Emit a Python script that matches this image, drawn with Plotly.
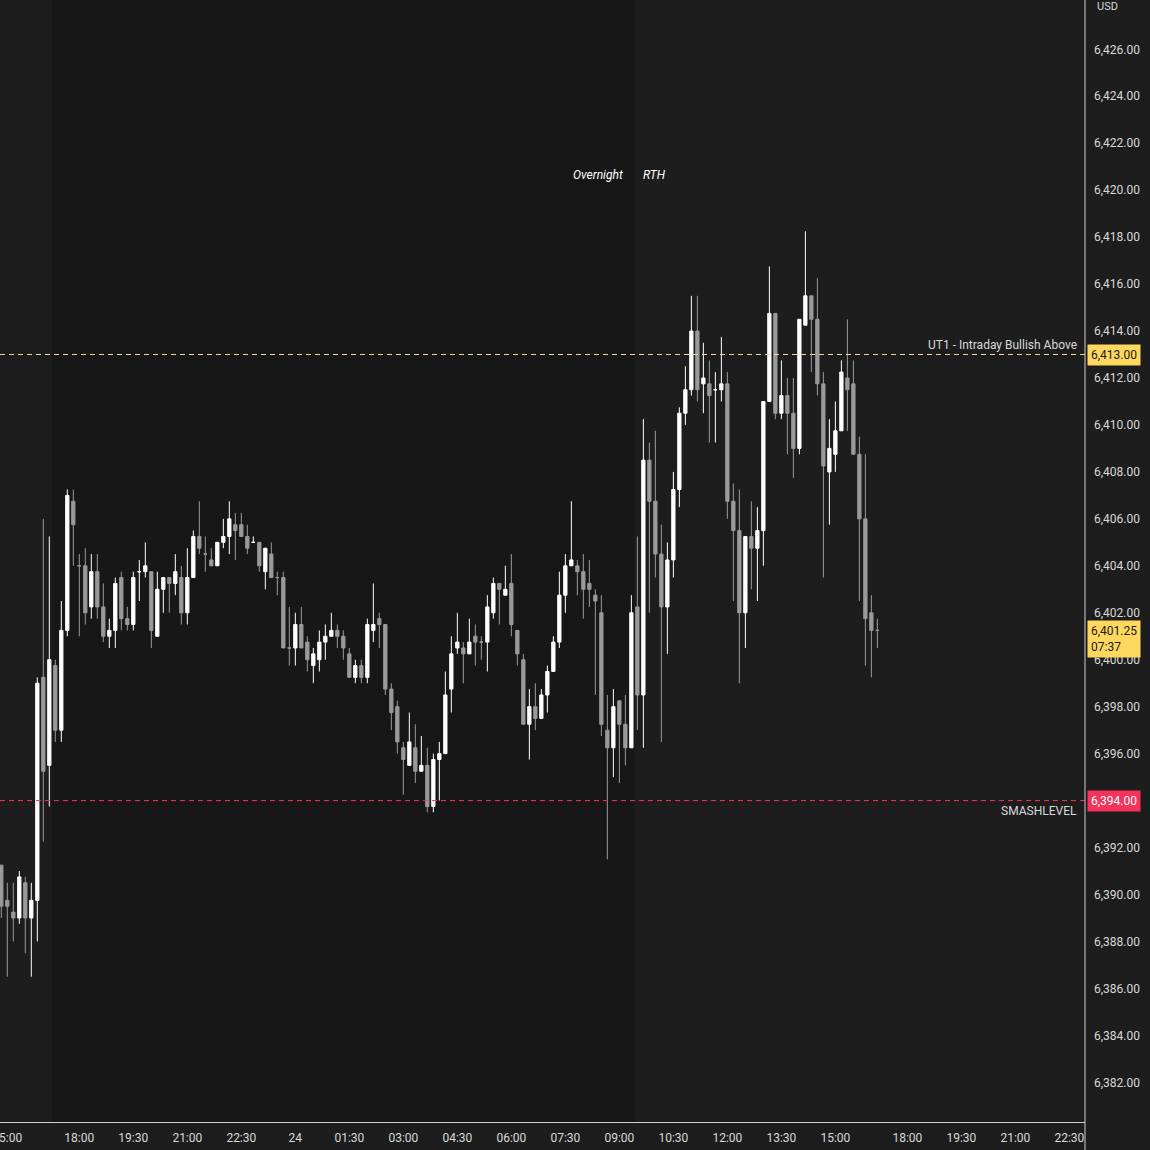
import plotly.graph_objects as go
import pandas as pd

# ---- data (10-minute bars) ----
opens = [
6391.25, 6389.75, 6389.25, 6389.0, 6390.5, 6389.0, 6389.75, 6399.25, 6395.5, 6399.75,
6397.0, 6401.25, 6406.75, 6404.0, 6404.0, 6402.25, 6403.75, 6402.25, 6401.0, 6401.25,
6403.5, 6401.75, 6401.5, 6403.75, 6403.75, 6403.75, 6401.0, 6403.0, 6403.5, 6403.25,
6403.5, 6402.0, 6403.5, 6405.25, 6404.5, 6404.25, 6404.0, 6405.0, 6405.25, 6405.75,
6405.75, 6405.25, 6405.0, 6405.0, 6403.75, 6404.5, 6403.5, 6403.5, 6400.5, 6400.5,
6401.5, 6400.75, 6399.75, 6400.0, 6400.75, 6401.0, 6401.25, 6401.0, 6400.25, 6399.25,
6399.75, 6399.25, 6401.25, 6401.75, 6401.5, 6398.75, 6398.0, 6396.25, 6395.5, 6396.25,
6395.25, 6395.5, 6393.75, 6395.75, 6396.0, 6398.75, 6400.5, 6400.5, 6400.25, 6401.0,
6400.75, 6400.75, 6402.0, 6403.25, 6402.75, 6403.25, 6401.25, 6400.0, 6397.25, 6398.0,
6397.5, 6398.5, 6399.5, 6400.75, 6402.75, 6404.0, 6404.0, 6403.75, 6403.25, 6402.75,
6402.0, 6397.0, 6396.25, 6398.25, 6397.25, 6396.25, 6402.25, 6398.5, 6408.5, 6406.75,
6404.5, 6402.25, 6404.25, 6407.25, 6410.5, 6411.5, 6414.0, 6411.75, 6411.75, 6411.5,
6411.5, 6411.75, 6406.75, 6405.5, 6402.0, 6405.25, 6404.75, 6405.5, 6411.0, 6414.75,
6410.5, 6411.25, 6410.5, 6409.0, 6414.25, 6415.5, 6414.5, 6411.75, 6408.0, 6408.75,
6409.75, 6412.0, 6411.75, 6408.75, 6406.0, 6402.0, 6401.25]

highs = [
6391.25, 6390.5, 6390.5, 6391.0, 6390.75, 6390.5, 6399.25, 6406.0, 6405.25, 6400.0,
6402.5, 6407.25, 6407.25, 6404.5, 6404.75, 6404.5, 6404.5, 6403.25, 6401.75, 6403.5,
6403.75, 6402.25, 6403.75, 6404.25, 6405.0, 6403.75, 6403.75, 6403.5, 6403.5, 6404.5,
6404.0, 6404.75, 6405.5, 6406.75, 6405.25, 6404.75, 6405.0, 6406.0, 6406.75, 6406.25,
6406.25, 6405.75, 6405.25, 6405.0, 6404.75, 6405.0, 6403.75, 6403.75, 6402.25, 6402.0,
6402.25, 6401.0, 6400.5, 6401.25, 6401.5, 6402.0, 6401.5, 6401.25, 6400.5, 6400.0,
6400.0, 6401.75, 6403.25, 6402.0, 6401.5, 6399.0, 6398.25, 6396.5, 6397.75, 6397.25,
6396.75, 6396.25, 6396.0, 6396.5, 6399.5, 6401.0, 6402.0, 6400.75, 6401.75, 6401.5,
6401.0, 6402.75, 6403.5, 6403.25, 6404.0, 6404.5, 6401.25, 6400.25, 6398.75, 6399.0,
6398.75, 6399.75, 6401.0, 6403.75, 6404.5, 6406.75, 6404.25, 6404.5, 6404.25, 6403.0,
6402.75, 6398.5, 6398.75, 6398.25, 6398.5, 6402.75, 6405.25, 6410.25, 6409.25, 6409.75,
6405.75, 6405.0, 6408.0, 6410.75, 6412.5, 6415.5, 6415.5, 6413.5, 6412.75, 6412.25,
6413.75, 6412.25, 6407.5, 6407.25, 6405.25, 6406.75, 6406.5, 6411.0, 6416.75, 6414.75,
6412.75, 6412.0, 6412.0, 6414.5, 6418.25, 6415.5, 6416.25, 6412.25, 6410.25, 6411.0,
6412.75, 6414.5, 6412.75, 6409.5, 6408.75, 6402.75, 6401.75]

lows = [
6389.0, 6386.5, 6388.0, 6388.75, 6387.5, 6386.5, 6388.0, 6392.25, 6393.75, 6396.5,
6396.5, 6401.0, 6404.0, 6401.0, 6401.5, 6401.75, 6401.75, 6400.75, 6400.5, 6400.5,
6401.25, 6401.25, 6401.25, 6402.5, 6403.5, 6400.5, 6401.0, 6402.0, 6402.0, 6402.75,
6401.5, 6401.5, 6403.5, 6404.5, 6403.75, 6404.0, 6404.0, 6404.75, 6404.5, 6404.25,
6405.25, 6404.5, 6405.0, 6403.75, 6403.0, 6403.5, 6402.75, 6400.5, 6399.75, 6399.75,
6400.5, 6399.5, 6399.0, 6399.5, 6400.0, 6401.0, 6400.5, 6400.0, 6399.25, 6399.0,
6399.0, 6399.0, 6400.75, 6400.5, 6398.5, 6397.0, 6396.0, 6394.25, 6395.5, 6394.75,
6395.25, 6393.5, 6393.5, 6394.0, 6396.0, 6397.75, 6400.25, 6399.0, 6400.25, 6399.75,
6400.0, 6399.5, 6401.75, 6401.5, 6402.75, 6401.0, 6399.75, 6397.25, 6395.75, 6397.0,
6397.5, 6397.75, 6399.5, 6400.5, 6402.0, 6404.0, 6402.75, 6401.75, 6402.25, 6398.5,
6396.75, 6391.5, 6395.0, 6394.75, 6395.5, 6396.25, 6397.0, 6396.25, 6402.0, 6403.5,
6396.5, 6400.25, 6403.5, 6406.5, 6410.0, 6411.25, 6411.0, 6410.5, 6409.25, 6409.25,
6411.0, 6406.0, 6402.5, 6399.0, 6400.5, 6403.0, 6402.5, 6404.0, 6411.0, 6410.25,
6410.25, 6408.75, 6407.75, 6408.75, 6414.25, 6412.25, 6411.25, 6403.5, 6405.75, 6408.0,
6409.75, 6409.75, 6408.75, 6402.5, 6399.75, 6399.25, 6400.5]

closes = [
6389.5, 6389.5, 6389.0, 6390.75, 6389.0, 6389.75, 6399.0, 6395.25, 6400.0, 6397.0,
6401.25, 6407.0, 6405.75, 6404.0, 6402.0, 6403.75, 6402.25, 6401.0, 6401.25, 6403.25,
6401.75, 6401.5, 6403.5, 6403.75, 6404.0, 6401.25, 6403.0, 6403.5, 6403.25, 6403.75,
6402.0, 6403.5, 6405.25, 6404.75, 6404.5, 6404.0, 6405.0, 6405.25, 6406.0, 6405.5,
6405.25, 6404.75, 6405.0, 6404.0, 6404.75, 6403.5, 6403.5, 6400.5, 6400.5, 6401.5,
6400.5, 6400.0, 6400.25, 6400.75, 6401.0, 6401.25, 6401.0, 6400.5, 6399.25, 6399.75,
6399.25, 6401.5, 6401.5, 6401.5, 6398.75, 6397.75, 6396.5, 6395.75, 6396.5, 6395.25,
6395.5, 6393.75, 6395.75, 6396.0, 6398.5, 6400.25, 6400.75, 6400.25, 6400.75, 6400.75,
6400.75, 6402.25, 6403.25, 6403.0, 6403.0, 6401.5, 6400.25, 6397.25, 6398.0, 6397.5,
6398.5, 6399.5, 6400.75, 6402.75, 6404.0, 6404.25, 6403.75, 6403.0, 6403.0, 6402.5,
6397.25, 6396.25, 6398.0, 6397.25, 6396.25, 6402.0, 6398.5, 6408.5, 6406.75, 6404.5,
6402.25, 6404.25, 6407.25, 6410.5, 6411.5, 6414.0, 6411.5, 6412.0, 6411.25, 6411.5,
6411.75, 6406.75, 6405.5, 6402.0, 6405.25, 6404.75, 6405.5, 6411.0, 6414.75, 6410.5,
6411.25, 6410.5, 6409.0, 6414.5, 6415.5, 6414.5, 6411.75, 6408.25, 6409.0, 6409.75,
6412.25, 6411.5, 6408.75, 6406.0, 6401.75, 6401.25, 6401.25]

# bar timestamps: 10-minute bars, daily maintenance break 17:00-18:00 skipped
times = pd.date_range("2025-07-23 14:50", "2025-07-24 16:10", freq="10min")
times = times[times.hour != 17]
n = min(len(times), len(opens), len(highs), len(lows), len(closes))
times = times[:n]

tick_vals = ["2025-07-23 15:00", "2025-07-23 18:00", "2025-07-23 19:30", "2025-07-23 21:00",
             "2025-07-23 22:30", "2025-07-24 00:00", "2025-07-24 01:30", "2025-07-24 03:00",
             "2025-07-24 04:30", "2025-07-24 06:00", "2025-07-24 07:30", "2025-07-24 09:00",
             "2025-07-24 10:30", "2025-07-24 12:00", "2025-07-24 13:30", "2025-07-24 15:00",
             "2025-07-24 18:00", "2025-07-24 19:30", "2025-07-24 21:00", "2025-07-24 22:30"]
tick_text = ["15:00", "18:00", "19:30", "21:00", "22:30", "24", "01:30", "03:00", "04:30",
             "06:00", "07:30", "09:00", "10:30", "12:00", "13:30", "15:00", "18:00",
             "19:30", "21:00", "22:30"]
# price-scale ticks (6,394.00 is hidden under the SMASHLEVEL price tag)
price_ticks = [6382, 6384, 6386, 6388, 6390, 6392, 6396, 6398, 6400, 6402, 6404,
               6406, 6408, 6410, 6412, 6414, 6416, 6418, 6420, 6422, 6424, 6426]

ut1_level = 6413.00
smash_level = 6394.00
last_price = 6401.25
countdown = "07:37"
overnight_start = "2025-07-23 16:15"
rth_start = "2025-07-24 09:25"

BG = "#1d1d1d"
SHADE = "#171717"
UP = "#ffffff"
DOWN = "#9a9a9a"
TXT = "#d9d9d9"
FONT = "Roboto, sans-serif"

fig = go.Figure()
fig.add_trace(go.Candlestick(
    x=times[:n], open=opens[:n], high=highs[:n], low=lows[:n], close=closes[:n],
    increasing=dict(line=dict(color=UP, width=1), fillcolor=UP),
    decreasing=dict(line=dict(color=DOWN, width=1), fillcolor=DOWN),
    whiskerwidth=0, hoverinfo="skip", showlegend=False,
))

shapes = [
    dict(type="rect", xref="x", yref="paper", x0=overnight_start, x1=rth_start, y0=0, y1=1,
         fillcolor=SHADE, line=dict(width=0), layer="below"),
    dict(type="line", xref="paper", yref="y", x0=0, x1=1, y0=ut1_level, y1=ut1_level,
         line=dict(color="#f2dc86", width=1, dash="5px,4px")),
    dict(type="line", xref="paper", yref="y", x0=0, x1=1, y0=smash_level, y1=smash_level,
         line=dict(color="#ff2f5c", width=1, dash="5px,4px")),
    # right price-scale border, runs to the bottom of the page
    dict(type="line", xref="paper", yref="paper", x0=1, x1=1, y0=-0.03, y1=1,
         line=dict(color="#d0d0d0", width=1)),
]

annotations = [
    dict(text="<i>Overnight</i>", x=rth_start, xref="x", y=175, yref="paper",
         showarrow=False, xanchor="right", yanchor="middle", xshift=-9,
         font=dict(family=FONT, size=12, color="#ffffff")),
    dict(text="<i>RTH</i>", x=rth_start, xref="x", y=175, yref="paper",
         showarrow=False, xanchor="left", yanchor="middle", xshift=7,
         font=dict(family=FONT, size=12, color="#ffffff")),
    dict(text="UT1 - Intraday Bullish Above", x=1, xref="paper", y=ut1_level, yref="y",
         showarrow=False, xanchor="right", yanchor="bottom", xshift=-6, yshift=1,
         font=dict(family=FONT, size=12, color=TXT)),
    dict(text="SMASHLEVEL", x=1, xref="paper", y=smash_level, yref="y",
         showarrow=False, xanchor="right", yanchor="top", xshift=-6, yshift=-1,
         font=dict(family=FONT, size=12, color=TXT)),
    dict(text=f"{ut1_level:,.2f}", x=1, xref="paper", y=ut1_level, yref="y",
         showarrow=False, xanchor="left", yanchor="middle", xshift=2,
         bgcolor="#fdd75e", borderpad=3,
         font=dict(family=FONT, size=12, color="#1a1a1a")),
    dict(text=f"{smash_level:,.2f}", x=1, xref="paper", y=smash_level, yref="y",
         showarrow=False, xanchor="left", yanchor="middle", xshift=2,
         bgcolor="#f5335b", borderpad=3,
         font=dict(family=FONT, size=12, color="#ffffff")),
    dict(text=f"{last_price:,.2f}<br>{countdown}", x=1, xref="paper", y=last_price, yref="y",
         showarrow=False, xanchor="left", yanchor="middle", xshift=2, yshift=-9,
         align="left", bgcolor="#fdd75e", borderpad=3,
         font=dict(family=FONT, size=12, color="#1a1a1a")),
    dict(text="USD", x=1, xref="paper", y=1, yref="paper", showarrow=False,
         xanchor="left", yanchor="top", xshift=10, yshift=2,
         font=dict(family=FONT, size=11, color=TXT)),
]
for a in annotations:
    if a["yref"] == "paper" and a["y"] > 1.5:
        a["y"] = 1 - a["y"] / 1122.0

fig.update_layout(
    width=1150, height=1150,
    margin=dict(l=0, r=65, t=0, b=28, pad=0, autoexpand=False),
    paper_bgcolor=BG, plot_bgcolor=BG,
    font=dict(family=FONT, size=12, color=TXT),
    shapes=shapes, annotations=annotations,
    showlegend=False, hovermode=False, boxgap=0.22,
    xaxis=dict(
        type="date", automargin=False,
        range=["2025-07-23 14:47:50", "2025-07-24 22:56"],
        rangebreaks=[dict(bounds=[17, 18], pattern="hour")],
        rangeslider=dict(visible=False),
        tickmode="array", tickvals=tick_vals, ticktext=tick_text,
        showgrid=False, zeroline=False, ticks="",
        showline=True, linecolor="#d0d0d0", linewidth=1,
        ticklabeloverflow="allow", ticklabelstandoff=5,
        tickfont=dict(family=FONT, size=12, color=TXT),
    ),
    yaxis=dict(
        side="right", automargin=False,
        range=[6380.31, 6428.10],
        tickmode="array", tickvals=price_ticks, tickformat=",.2f",
        showgrid=False, zeroline=False, ticks="",
        showline=False,
        ticklabelstandoff=8,
        tickfont=dict(family=FONT, size=12, color=TXT),
    ),
)

fig.write_html("out.html", config={"displayModeBar": False},
               post_script="document.body.style.margin='0px';")
